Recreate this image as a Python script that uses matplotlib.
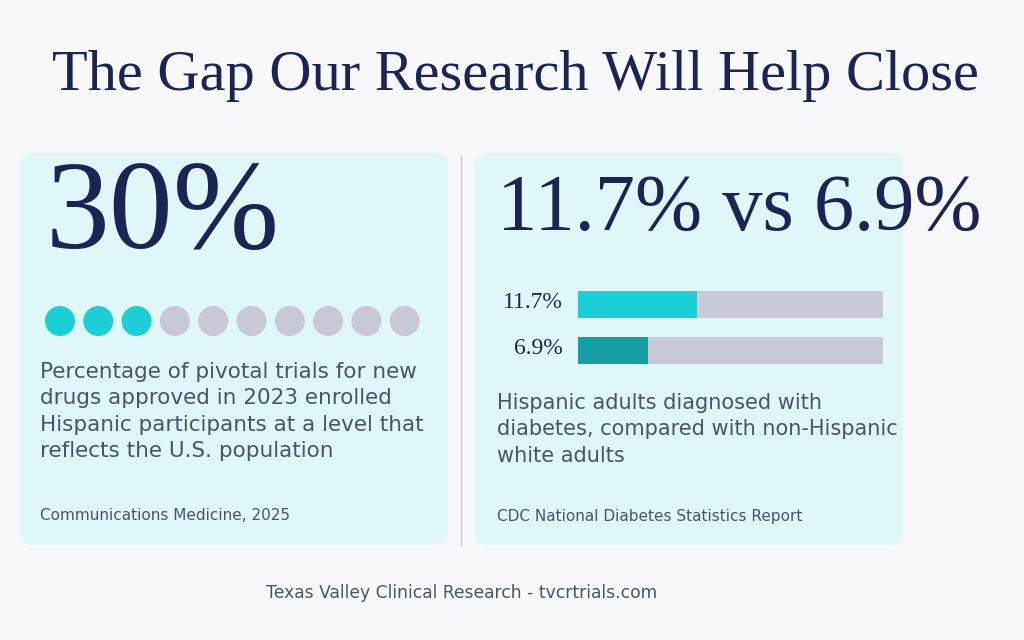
import matplotlib.pyplot as plt
from matplotlib.patches import FancyBboxPatch, Circle, Rectangle

title = "The Gap Our Research Will Help Close"
big_left = "30%"
big_right = "11.7% vs 6.9%"
trial_share = 30          # percent, shown as dots out of 10
rates = [11.7, 6.9]
rate_labels = ["11.7%", "6.9%"]
bar_max = 30
left_text = ("Percentage of pivotal trials for new\ndrugs approved in 2023 enrolled\n"
             "Hispanic participants at a level that\nreflects the U.S. population")
left_source = "Communications Medicine, 2025"
right_text = "Hispanic adults diagnosed with\ndiabetes, compared with non-Hispanic\nwhite adults"
right_source = "CDC National Diabetes Statistics Report"
footer = "Texas Valley Clinical Research - tvcrtrials.com"

navy = "#1b2452"
body = "#4a5468"
teal = "#1ccfd6"
teal_dark = "#169ea3"
grey = "#c8c8d6"
card = "#dff7f9"

fig = plt.figure(figsize=(10.24, 6.4), dpi=100, facecolor="#f8f8fb")
ax = fig.add_axes([0, 0, 1, 1])
ax.set_xlim(0, 1024)
ax.set_ylim(640, 0)
ax.axis("off")

ax.text(515, 76, title, ha="center", va="center", fontsize=42,
        family="Liberation Serif", color=navy)

for x0 in (20, 475):
    ax.add_patch(FancyBboxPatch((x0, 153), 428, 392, boxstyle="round,pad=0,rounding_size=12",
                                fc=card, ec="none"))
ax.plot([461, 461], [155, 545], color="#c9ccd4", lw=1)

# left card
ax.text(46, 248, big_left, fontsize=92, family="Liberation Serif", color=navy, va="baseline")
n_on = trial_share // 10
for i in range(10):
    ax.add_patch(Circle((60 + i * 38.3, 321), 15, fc=teal if i < n_on else grey, ec="none"))
ax.text(40, 362, left_text, fontsize=15.5, color=body, va="top", linespacing=1.4)
ax.text(40, 516, left_source, fontsize=11, color=body, va="center")

# right card
ax.text(497, 230, big_right, fontsize=58, family="Liberation Serif", color=navy, va="baseline")
x_left, width = 578, 305
for i, (v, lab, c) in enumerate(zip(rates, rate_labels, [teal, teal_dark])):
    y = 291 + i * 46
    ax.add_patch(Rectangle((x_left, y), width, 27, fc=grey, ec="none"))
    ax.add_patch(Rectangle((x_left, y), width * v / bar_max, 27, fc=c, ec="none"))
    ax.text(563, y + 12, lab, ha="right", va="center", fontsize=17,
            family="Liberation Serif", color=navy)
ax.text(497, 393, right_text, fontsize=15, color=body, va="top", linespacing=1.4)
ax.text(497, 516, right_source, fontsize=11, color=body, va="center")

ax.text(462, 593, footer, ha="center", va="center", fontsize=12.3, color=body)

fig.savefig("out.png", dpi=100, facecolor=fig.get_facecolor())
